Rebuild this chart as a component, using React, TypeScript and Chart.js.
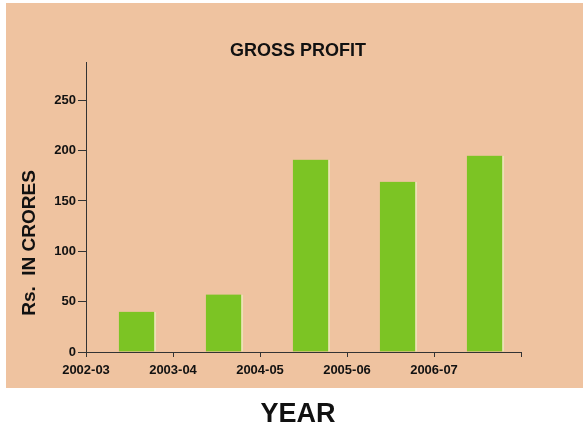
import React, { useEffect, useRef } from "react";
import { Chart, registerables } from "chart.js";

Chart.register(...registerables);

const categories = ["2002-03", "2003-04", "2004-05", "2005-06", "2006-07"];
const grossProfit = [40, 57, 191, 169, 195];
const yTicks = [0, 50, 100, 150, 200, 250];

const FONT = "'Liberation Sans', Arial, sans-serif";

const decorPlugin = {
  id: "decor",
  beforeDraw(chart: any) {
    const { ctx, width } = chart;
    ctx.save();
    ctx.fillStyle = "#efc3a0";
    ctx.fillRect(6, 3, width - 6, 385);
    ctx.restore();
  },
  afterDraw(chart: any) {
    const { ctx } = chart;
    ctx.save();
    ctx.fillStyle = "#111";
    ctx.textAlign = "center";
    ctx.textBaseline = "middle";
    ctx.font = `bold 18px ${FONT}`;
    ctx.fillText("GROSS PROFIT", 298, 51);
    ctx.font = `bold 27px ${FONT}`;
    ctx.fillText("YEAR", 298, 415);
    ctx.translate(30, 243);
    ctx.rotate(-Math.PI / 2);
    ctx.font = `bold 19px ${FONT}`;
    ctx.fillText("Rs.  IN CRORES", 0, 0);
    ctx.restore();
  },
};

export default function App() {
  const ref = useRef<HTMLCanvasElement | null>(null);

  useEffect(() => {
    if (!ref.current) return;
    const chart = new Chart(ref.current, {
      type: "bar",
      data: {
        datasets: [
          {
            label: "Gross Profit",
            data: grossProfit.map((v, i) => ({ x: i + 0.59, y: v })),
            backgroundColor: "#7cc424",
            borderColor: "rgba(235,240,190,0.7)",
            borderWidth: { left: 0, top: 0, right: 2, bottom: 0 },
            borderSkipped: false,
            barThickness: 37,
          },
        ],
      },
      options: {
        animation: false,
        responsive: false,
        maintainAspectRatio: false,
        layout: { padding: { left: 6, top: 62, right: 62, bottom: 47 } },
        plugins: {
          legend: { display: false },
          tooltip: { enabled: false },
          title: { display: false },
        },
        scales: {
          x: {
            type: "linear",
            offset: false,
            min: 0,
            max: categories.length,
            afterFit: (s: any) => {
              s.height = 30;
            },
            afterBuildTicks: (s: any) => {
              s.ticks = Array.from({ length: categories.length + 1 }, (_, i) => ({ value: i }));
            },
            ticks: {
              autoSkip: false,
              maxRotation: 0,
              padding: 6,
              color: "#111",
              font: { family: FONT, size: 13, weight: "bold" },
              callback: (v: any) => categories[v as number] ?? "",
            },
            grid: {
              offset: false,
              drawOnChartArea: false,
              drawTicks: true,
              tickLength: 5,
              color: "#333",
            },
            border: { display: true, color: "#333", width: 1 },
          },
          y: {
            min: 0,
            max: 288,
            afterFit: (s: any) => {
              s.width = 80;
            },
            afterBuildTicks: (s: any) => {
              s.ticks = yTicks.map((v) => ({ value: v }));
            },
            ticks: {
              padding: 2,
              color: "#111",
              font: { family: FONT, size: 13, weight: "bold" },
            },
            grid: {
              drawOnChartArea: false,
              drawTicks: true,
              tickLength: 8,
              color: "#333",
            },
            border: { display: true, color: "#333", width: 1 },
          },
        },
      },
      plugins: [decorPlugin],
    } as any);
    return () => chart.destroy();
  }, []);

  return (
    <div style={{ position: "fixed", left: 0, top: 0, width: 583, height: 429, background: "#fff" }}>
      <canvas ref={ref} width={583} height={429} style={{ width: 583, height: 429, display: "block" }} />
    </div>
  );
}
